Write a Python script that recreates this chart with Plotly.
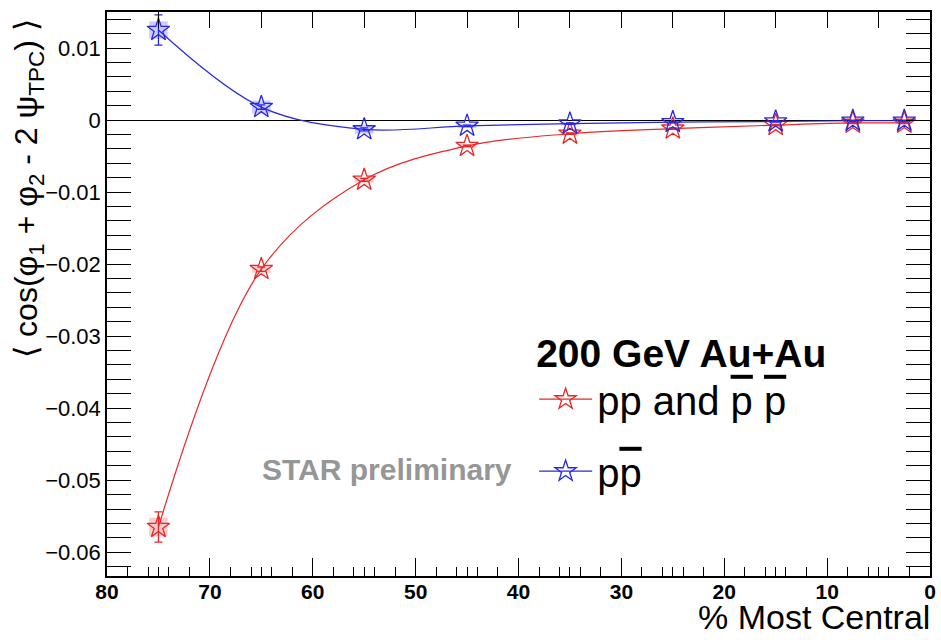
import plotly.graph_objects as go

# Centrality bins (% most central)
centrality = [75, 65, 55, 45, 35, 25, 15, 7.5, 2.5]

# Same-sign pairs (pp and pbar pbar)
same_sign = [-0.0565, -0.0207, -0.0083, -0.0036, -0.0019, -0.0012, -0.0007, -0.0004, -0.0004]
same_sign_stat = [0.0021, 0.0003, 0.0002, 0.0001, 0.0001, 0.0001, 0.0001, 0.0001, 0.0001]
same_sign_sys = [0.0013, 0.0005, 0.0004, 0.0003, 0.0002, 0.0002, 0.0001, 0.0001, 0.0001]

# Opposite-sign pairs (p pbar)
opp_sign = [0.0125, 0.0018, -0.0013, -0.0008, -0.0005, -0.0003, -0.0002, -0.0001, -0.0001]
opp_sign_stat = [0.0021, 0.0003, 0.0002, 0.0001, 0.0001, 0.0001, 0.0001, 0.0001, 0.0001]
opp_sign_sys = [0.0012, 0.0009, 0.0006, 0.0003, 0.0002, 0.0002, 0.0001, 0.0001, 0.0001]

sys_half_width = 0.9

x_ticks = [80, 70, 60, 50, 40, 30, 20, 10, 0]
x_tick_labels = ["80", "70", "60", "50", "40", "30", "20", "10", "0"]
y_ticks = [0.01, 0.0, -0.01, -0.02, -0.03, -0.04, -0.05, -0.06]
y_tick_labels = ["0.01", "0", "\u22120.01", "\u22120.02", "\u22120.03", "\u22120.04", "\u22120.05", "\u22120.06"]

RED = "rgb(232,40,40)"
BLUE = "rgb(40,40,225)"
FONT = "Liberation Sans"

fig = go.Figure()

# Systematic-uncertainty boxes
for xs, ys, sys, fill in [
    (centrality, same_sign, same_sign_sys, "rgba(240,110,110,0.35)"),
    (centrality, opp_sign, opp_sign_sys, "rgba(110,110,240,0.35)"),
]:
    for xv, yv, sv in zip(xs, ys, sys):
        fig.add_shape(type="rect", xref="x", yref="y",
                      x0=xv - sys_half_width, x1=xv + sys_half_width,
                      y0=yv - sv, y1=yv + sv,
                      fillcolor=fill, line_width=0, layer="below")

ob = '<span style="text-decoration:overline">p</span>'

fig.add_trace(go.Scatter(
    x=centrality, y=same_sign, mode="lines+markers",
    name="pp and " + ob + " " + ob,
    line=dict(color=RED, width=1.2, shape="spline", smoothing=1.0),
    marker=dict(symbol="star-open", size=17, color=RED, line=dict(width=1.3, color=RED)),
    error_y=dict(type="data", array=same_sign_stat, color=RED, thickness=1.3, width=4),
    legendgroup="a",
))
fig.add_trace(go.Scatter(
    x=centrality, y=opp_sign, mode="lines+markers",
    name="p" + ob,
    line=dict(color=BLUE, width=1.2, shape="spline", smoothing=1.0),
    marker=dict(symbol="star-open", size=17, color=BLUE, line=dict(width=1.3, color=BLUE)),
    error_y=dict(type="data", array=opp_sign_stat, color=BLUE, thickness=1.3, width=4),
    legendgroup="b",
))

minor_x = [d + o for d in range(0, 80, 10) for o in (2, 4, 5, 6, 8)]

fig.update_layout(
    width=941, height=640,
    margin=dict(l=107, r=5, t=12, b=64),
    paper_bgcolor="white", plot_bgcolor="white",
    font=dict(family=FONT, color="black"),
    showlegend=True,
    legend=dict(
        x=0.519, y=0.461, xanchor="left", yanchor="top",
        bgcolor="rgba(0,0,0,0)",
        font=dict(size=40, family=FONT, color="black"),
        title=dict(text="<b>200 GeV Au+Au</b>", font=dict(size=39, family=FONT, color="black")),
        tracegroupgap=17,
        itemwidth=53,
    ),
    xaxis=dict(
        range=[80, 0], showgrid=False, zeroline=False,
        showline=True, linecolor="black", linewidth=1.5, mirror=True,
        ticks="inside", tickvals=x_ticks, ticktext=x_tick_labels,
        ticklen=18, tickwidth=1.3, tickcolor="black",
        ticklabelstandoff=-4,
        tickfont=dict(size=21, family=FONT, color="black", weight="bold"),
        minor=dict(tickmode="array", tickvals=minor_x, ticks="inside",
                   ticklen=9, tickwidth=1.2, tickcolor="black"),
    ),
    xaxis2=dict(
        range=[80, 0], overlaying="x", side="top", showgrid=False, zeroline=False,
        showline=False, ticks="inside", dtick=5, tick0=0, ticklen=16, tickwidth=1.3,
        tickcolor="black", showticklabels=False,
    ),
    yaxis=dict(
        range=[-0.0633, 0.015], showgrid=False,
        zeroline=True, zerolinecolor="black", zerolinewidth=1.3,
        showline=True, linecolor="black", linewidth=1.5, mirror="allticks",
        ticks="inside", tickvals=y_ticks, ticktext=y_tick_labels,
        ticklen=24, tickwidth=1.3, tickcolor="black",
        tickfont=dict(size=22, family=FONT, color="black"),
        minor=dict(dtick=0.002, tick0=0, ticks="inside", ticklen=13,
                   tickwidth=1.2, tickcolor="black"),
    ),
)

# Invisible trace so the top axis is drawn
fig.add_trace(go.Scatter(x=[centrality[0]], y=[same_sign[0]], xaxis="x2", mode="markers",
                         marker=dict(opacity=0), showlegend=False, hoverinfo="skip"))

# Y-axis title
fig.add_annotation(
    xref="paper", yref="paper", x=-0.095, y=0.688, xanchor="center", yanchor="middle",
    textangle=-90, showarrow=False,
    text="\u27e8 cos(\u03c6<sub>1</sub> + \u03c6<sub>2</sub> - 2 \u03c8<sub>TPC</sub>) \u27e9",
    font=dict(size=32, family=FONT, color="black"),
)

# X-axis title
fig.add_annotation(
    xref="paper", yref="paper", x=1.0, y=0, xanchor="right", yanchor="middle",
    yshift=-41, xshift=2, showarrow=False, text="% Most Central",
    font=dict(size=34, family=FONT, color="black"),
)

fig.add_annotation(
    xref="paper", yref="paper", x=0.340, y=0.188, xanchor="center", yanchor="middle",
    showarrow=False, text="<b>STAR preliminary</b>",
    font=dict(size=30, family=FONT, color="rgb(150,150,150)"),
)

fig.write_html("out.html")
